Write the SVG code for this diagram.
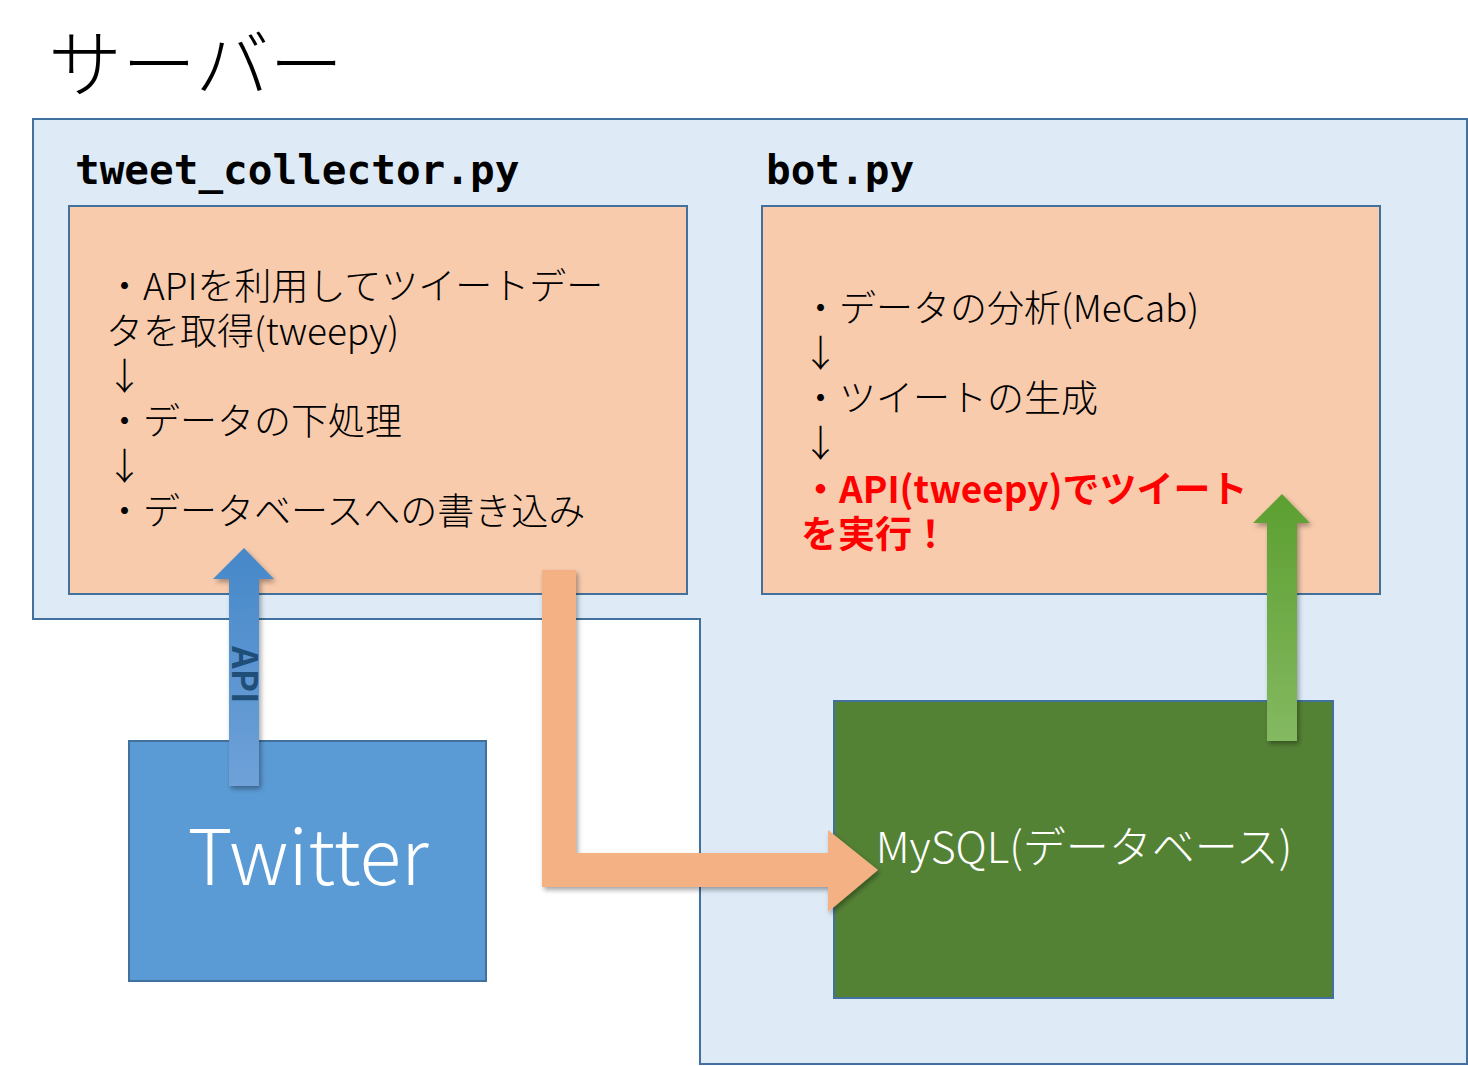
<svg xmlns="http://www.w3.org/2000/svg" width="1468" height="1066" viewBox="0 0 1468 1066">
<style>
.jp{font-family:"Noto Sans CJK JP","Noto Sans",sans-serif;}
.mono{font-family:"DejaVu Sans Mono","Liberation Mono",monospace;font-size:41px;fill:#000;font-weight:bold;}
.body{font-size:37px;fill:#000;font-weight:300;}
.red{font-size:37px;fill:#ff0000;font-weight:700;}
.box{fill:#f8cbad;stroke:#41719c;stroke-width:2;}
</style>
<defs>
<linearGradient id="gBlue" x1="0" y1="0" x2="0" y2="1">
<stop offset="0" stop-color="#4688c9"/><stop offset="1" stop-color="#6fa1d8"/>
</linearGradient>
<linearGradient id="gGreen" x1="0" y1="0" x2="0" y2="1">
<stop offset="0" stop-color="#5c9f30"/><stop offset="1" stop-color="#84b961"/>
</linearGradient>
<filter id="sh" x="-30%" y="-10%" width="160%" height="130%">
<feDropShadow dx="2" dy="3" stdDeviation="2.5" flood-color="#000" flood-opacity="0.35"/>
</filter>
</defs>

<g id="server">
<polygon points="33,119 1467,119 1467,1064 700,1064 700,619 33,619" fill="#deebf7" stroke="#41719c" stroke-width="2"/>
<text class="jp" x="48" y="91" font-size="74" font-weight="300" fill="#000">サーバー</text>
</g>

<g id="tweet_collector">
<text class="mono" x="75" y="184">tweet_collector.py</text>
<rect class="box" x="69" y="206" width="618" height="388"/>
<text class="jp body" x="106" y="300">・APIを利用してツイートデー</text>
<text class="jp body" x="106" y="345">タを取得(tweepy)</text>
<text class="jp body" x="106" y="390">↓</text>
<text class="jp body" x="106" y="435">・データの下処理</text>
<text class="jp body" x="106" y="480">↓</text>
<text class="jp body" x="106" y="525">・データベースへの書き込み</text>
</g>

<g id="bot">
<text class="mono" x="766" y="184">bot.py</text>
<rect class="box" x="762" y="206" width="618" height="388"/>
<text class="jp body" x="802" y="322">・データの分析(MeCab)</text>
<text class="jp body" x="802" y="367">↓</text>
<text class="jp body" x="802" y="412">・ツイートの生成</text>
<text class="jp body" x="802" y="457">↓</text>
<text class="jp red" x="802" y="503">・API(tweepy)でツイート</text>
<text class="jp red" x="801" y="548">を実行！</text>
</g>

<g id="twitter">
<rect x="129" y="741" width="357" height="240" fill="#5b9bd5" stroke="#41719c" stroke-width="2"/>
<text class="jp" x="308" y="885" font-size="77" font-weight="300" fill="#fff" text-anchor="middle">Twitter</text>
</g>

<g id="mysql">
<rect x="834" y="701" width="499" height="297" fill="#548235" stroke="#41719c" stroke-width="2"/>
<text class="jp" x="1084" y="863" font-size="43" font-weight="300" fill="#fff" text-anchor="middle">MySQL(データベース)</text>
</g>

<g id="connectors">
<g filter="url(#sh)">
<polygon points="229,786 259,786 259,579 274,579 244,548 213,579 229,579" fill="url(#gBlue)"/>
</g>
<text class="jp" transform="translate(232,675) rotate(90)" font-size="35" font-weight="700" fill="#1f4e79" text-anchor="middle">API</text>
<g filter="url(#sh)">
<polygon points="542,570 576,570 576,853 828,853 828,830 878,870 828,912 828,887 542,887" fill="#f4b183"/>
</g>
<g filter="url(#sh)">
<polygon points="1267,741 1297,741 1297,523 1310,523 1282,494 1253,523 1267,523" fill="url(#gGreen)"/>
</g>
</g>
</svg>
